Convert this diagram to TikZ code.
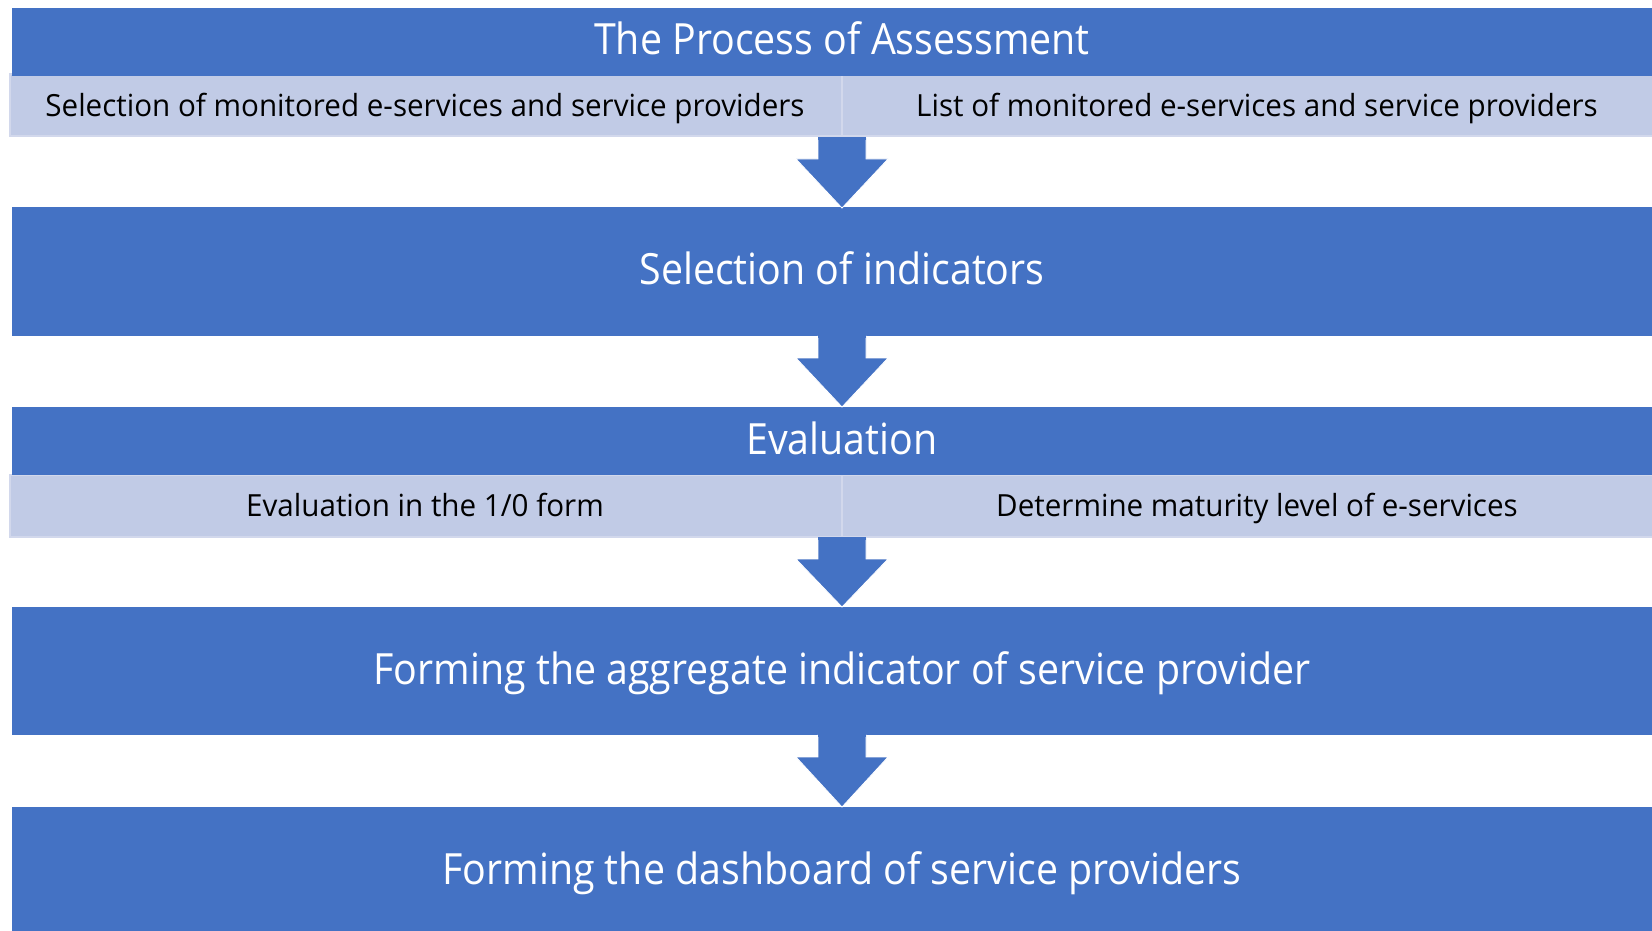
\documentclass[tikz,border=0pt]{standalone}
\usepackage{fontspec}
\setmainfont{Open Sans}
\newfontfamily\whitefont[FakeStretch=0.915]{Open Sans}
\newfontfamily\blackfont[FakeStretch=0.97]{Open Sans}
\definecolor{blu}{RGB}{68,114,196}
\definecolor{lite}{RGB}{193,203,230}
\definecolor{liteb}{RGB}{210,216,236}
\tikzset{
  bluebox/.style={rectangle, fill=blu, draw=none, inner sep=0pt},
  litebox/.style={rectangle, fill=lite, draw=liteb, line width=2pt, inner sep=0pt},
  whitetxt/.style={text=white, font=\whitefont\fontsize{43}{50}\selectfont, anchor=base, inner sep=0pt},
  blacktxt/.style={text=black, font=\blackfont\fontsize{30.5}{36}\selectfont, anchor=base, inner sep=0pt},
  blockarr/.style={fill=blu, draw=white, line width=0.8pt, line join=miter}
}
\begin{document}
\begin{tikzpicture}[x=1pt,y=-1pt]
\useasboundingbox (0,0) rectangle (1652,931);
\clip (0,0) rectangle (1652,931);
% light bars
\node[litebox, minimum width=833pt, minimum height=62pt] (l1a) at (426,105.5) {};
\node[litebox, minimum width=840pt, minimum height=62pt] (l1b) at (1262,105.5) {};
\node[litebox, minimum width=833pt, minimum height=62pt] (l2a) at (426,506) {};
\node[litebox, minimum width=840pt, minimum height=62pt] (l2b) at (1262,506) {};
% blue boxes
\node[bluebox, minimum width=1661pt, minimum height=68pt] (b1) at (842,42) {};
\node[bluebox, minimum width=1661pt, minimum height=129pt] (b2) at (842,271.5) {};
\node[bluebox, minimum width=1661pt, minimum height=68pt] (b3) at (842,441) {};
\node[bluebox, minimum width=1661pt, minimum height=128pt] (b4) at (842,671) {};
\node[bluebox, minimum width=1661pt, minimum height=128pt] (b5) at (842,871) {};
% arrows
\coordinate (a1) at (842,138);
\coordinate (a2) at (842,336);
\coordinate (a3) at (842,538);
\coordinate (a4) at (842,735);
\filldraw[blockarr, shift={(a1)}] (-24,0) -- (24,0) -- (24,21) -- (46,21) -- (0,70) -- (-46,21) -- (-24,21) -- cycle;
\filldraw[blockarr, shift={(a2)}] (-24,0) -- (24,0) -- (24,22) -- (46,22) -- (0,71) -- (-46,22) -- (-24,22) -- cycle;
\filldraw[blockarr, shift={(a3)}] (-24,0) -- (24,0) -- (24,21) -- (46,21) -- (0,69) -- (-46,21) -- (-24,21) -- cycle;
\filldraw[blockarr, shift={(a4)}] (-24,0) -- (24,0) -- (24,22) -- (46,22) -- (0,72) -- (-46,22) -- (-24,22) -- cycle;
% cover the white outline along the arrow tops
\fill[blu] (818.4,137) rectangle (865.6,140);
\fill[blu] (818.4,335) rectangle (865.6,338);
\fill[blu] (818.4,537) rectangle (865.6,540);
\fill[blu] (818.4,734) rectangle (865.6,737);
% texts
\node[whitetxt] (t1) at (842,55) {The Process of Assessment};
\node[blacktxt] (t1a) at (425,117) {Selection of monitored e-services and service providers};
\node[blacktxt] (t1b) at (1257,117) {List of monitored e-services and service providers};
\node[whitetxt] (t2) at (842,284) {Selection of indicators};
\node[whitetxt] (t3) at (842,454.5) {Evaluation};
\node[blacktxt] (t3a) at (425,516) {Evaluation in the 1/0 form};
\node[blacktxt] (t3b) at (1257,516) {Determine maturity level of e-services};
\node[whitetxt] (t4) at (842,684) {Forming the aggregate indicator of service provider};
\node[whitetxt] (t5) at (842,884.5) {Forming the dashboard of service providers};
\end{tikzpicture}
\end{document}
